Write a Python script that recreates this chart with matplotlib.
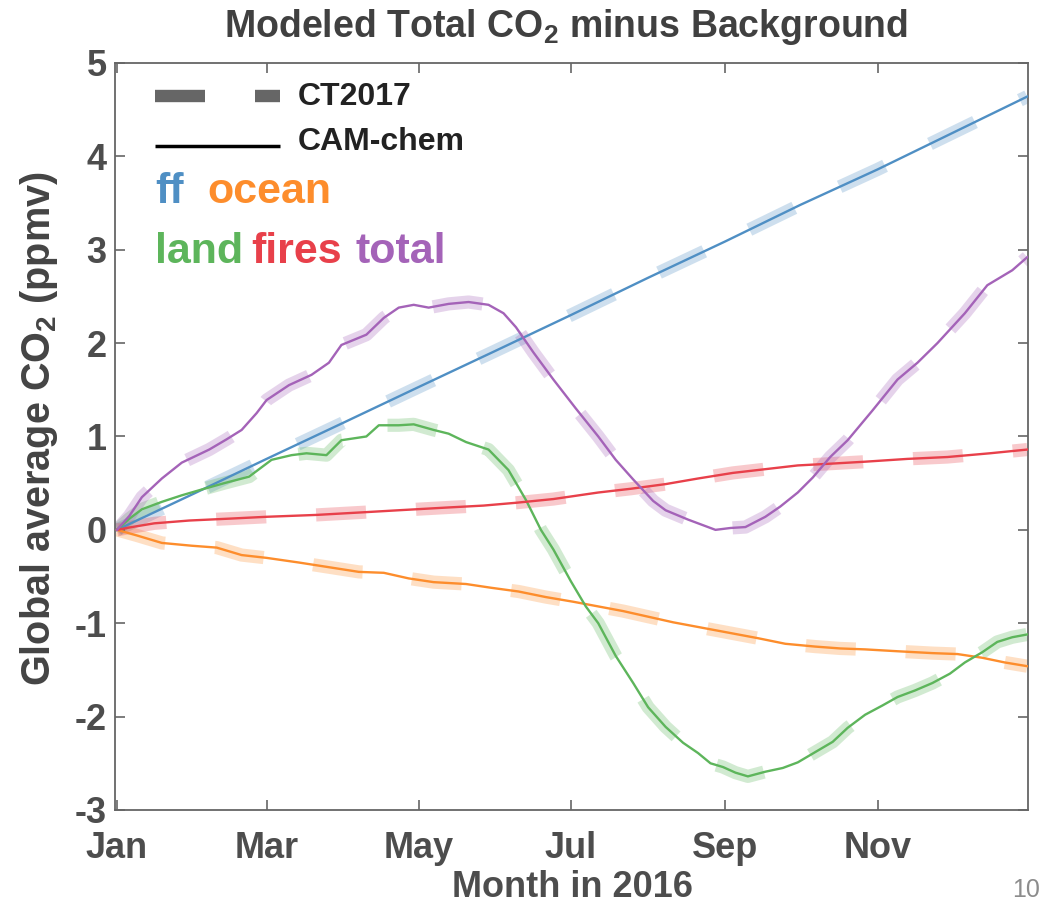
import matplotlib as mpl
mpl.use('Agg')
import matplotlib.pyplot as plt

plt.rcParams['font.family'] = ['Liberation Sans', 'DejaVu Sans']
plt.rcParams['font.weight'] = 'bold'
plt.rcParams['mathtext.fontset'] = 'custom'
plt.rcParams['mathtext.rm'] = 'Liberation Sans:bold'
plt.rcParams['mathtext.bf'] = 'Liberation Sans:bold'
plt.rcParams['lines.scale_dashes'] = False
plt.rcParams['axes.unicode_minus'] = False

# day of 2016 (0 = Jan 1) and CO2 minus background (ppmv)
ff_days = [0, 31, 60, 91, 121, 152, 182, 213, 244, 274, 305, 335, 365]
ff_vals = [0, 0.39, 0.76, 1.15, 1.53, 1.92, 2.30, 2.70, 3.09, 3.48, 3.86, 4.25, 4.64]

ocean_days = [0, 8, 18, 30, 40, 50, 60, 73, 85, 97, 107, 117, 127, 140, 150, 161,
              172, 183, 193, 203, 213, 223, 233, 245, 257, 268, 280, 290, 300,
              313, 327, 337, 347, 356, 365]
ocean_vals = [0, -0.06, -0.14, -0.17, -0.19, -0.27, -0.30, -0.35, -0.40, -0.45,
              -0.46, -0.52, -0.56, -0.58, -0.62, -0.66, -0.72, -0.77, -0.82,
              -0.87, -0.93, -0.99, -1.04, -1.10, -1.16, -1.22, -1.25, -1.27,
              -1.28, -1.30, -1.32, -1.33, -1.37, -1.42, -1.46]

land_days = [0, 5, 10, 18, 26, 35, 43, 53, 62, 70, 76, 84, 90, 100, 105, 113, 119,
             127, 133, 140, 149, 157, 164, 170, 175, 182, 188, 193, 200, 207, 213,
             220, 227, 233, 238, 243, 248, 253, 260, 267, 273, 280, 287, 293, 300,
             307, 313, 320, 327, 334, 340, 347, 353, 359, 365]
land_vals = [0, 0.12, 0.22, 0.30, 0.37, 0.44, 0.50, 0.57, 0.75, 0.80, 0.82, 0.80,
             0.96, 1.00, 1.12, 1.12, 1.13, 1.07, 1.03, 0.94, 0.86, 0.64, 0.32, 0.0,
             -0.21, -0.55, -0.82, -1.00, -1.35, -1.64, -1.90, -2.11, -2.28, -2.39,
             -2.50, -2.54, -2.60, -2.64, -2.59, -2.55, -2.49, -2.38, -2.27, -2.12,
             -1.98, -1.88, -1.79, -1.72, -1.64, -1.54, -1.42, -1.31, -1.20, -1.15,
             -1.12]

fires_days = [0, 6, 15, 29, 45, 60, 80, 100, 113, 133, 147, 160, 175, 193, 206,
              220, 233, 247, 260, 273, 287, 300, 317, 333, 350, 365]
fires_vals = [0, 0.03, 0.07, 0.10, 0.12, 0.14, 0.16, 0.19, 0.21, 0.24, 0.26, 0.29,
              0.33, 0.40, 0.44, 0.49, 0.55, 0.61, 0.65, 0.69, 0.71, 0.73, 0.76,
              0.78, 0.82, 0.86]

total_days = [0, 5, 10, 18, 26, 37, 44, 50, 56, 60, 69, 78, 85, 90, 100, 107, 113,
              119, 125, 133, 141, 149, 155, 160, 167, 175, 184, 193, 200, 207, 215,
              220, 229, 235, 240, 246, 252, 260, 266, 273, 279, 286, 293, 303, 313,
              321, 329, 340, 349, 359, 365]
total_vals = [0, 0.15, 0.35, 0.55, 0.72, 0.86, 0.97, 1.07, 1.25, 1.39, 1.55, 1.66,
              1.79, 1.98, 2.09, 2.27, 2.38, 2.41, 2.38, 2.42, 2.44, 2.41, 2.32,
              2.17, 1.90, 1.61, 1.30, 1.00, 0.75, 0.54, 0.31, 0.21, 0.11, 0.05,
              0.00, 0.02, 0.03, 0.14, 0.25, 0.40, 0.56, 0.78, 0.96, 1.28, 1.61,
              1.79, 2.00, 2.32, 2.62, 2.78, 2.92]

month_ticks = [0, 60, 121, 182, 244, 305]
month_labels = ['Jan', 'Mar', 'May', 'Jul', 'Sep', 'Nov']

series = [
    ('ff', ff_days, ff_vals, '#4f8fc4'),
    ('ocean', ocean_days, ocean_vals, '#fd8d2c'),
    ('land', land_days, land_vals, '#5db55b'),
    ('fires', fires_days, fires_vals, '#e8404a'),
    ('total', total_days, total_vals, '#a463b8'),
]

fig = plt.figure(figsize=(10.45, 9.10), dpi=100)
ax = fig.add_axes([0.1100, 0.1099, 0.8737, 0.8209])

# CT2017: wide pale dashes; CAM-chem: thin solid lines on top
for name, d, v, c in series:
    ax.plot(d, v, color=c, alpha=0.28, lw=9.5, dashes=(36, 36),
            dash_capstyle='butt', zorder=1)
for name, d, v, c in series:
    ax.plot(d, v, color=c, lw=1.7, zorder=3)

ax.set_xlim(-0.8, 365.3)
ax.set_ylim(-3, 5)
ax.set_xticks(month_ticks)
ax.set_xticklabels(month_labels)
ax.set_yticks(range(-3, 6))
ax.tick_params(direction='in', length=7, width=1.2, color='#666666',
               top=True, right=True, labelsize=26, labelcolor='#4d4d4d')
ax.tick_params(axis='x', pad=15)
ax.tick_params(axis='y', pad=6)
for sp in ax.spines.values():
    sp.set_color('#666666')
    sp.set_linewidth(1.3)

# legend drawn by hand
ax.plot([0.0438, 0.1807], [0.9563, 0.9563], transform=ax.transAxes,
        color='#666666', lw=8.9, dashes=(36, 36), dash_capstyle='butt')
ax.plot([0.0438, 0.1807], [0.8893, 0.8893], transform=ax.transAxes,
        color='black', lw=2.5, solid_capstyle='butt')
ax.text(0.2004, 0.9438, 'CT2017', transform=ax.transAxes, fontsize=23,
        color='#222222', va='baseline')
ax.text(0.2004, 0.8835, 'CAM-chem', transform=ax.transAxes, fontsize=23,
        color='#222222', va='baseline')
label_pos = {'ff': (0.0438, 0.8123), 'ocean': (0.1013, 0.8123),
             'land': (0.0438, 0.7323), 'fires': (0.149, 0.7323),
             'total': (0.264, 0.7323)}
for name, d, v, c in series:
    x, y = label_pos[name]
    ax.text(x, y, name, transform=ax.transAxes, fontsize=31, color=c,
            va='baseline')

fig.text(566.5 / 1045, 1 - 37 / 910, r'Modeled Total CO$_\mathbf{2}$ minus Background',
         ha='center', va='baseline', fontsize=27, color='#404040')
fig.text(39 / 1045, 1 - 429 / 910, r'Global average CO$_\mathbf{2}$ (ppmv)',
         ha='center', va='center', rotation=90, fontsize=28.5, color='#444444')
fig.text(572 / 1045, 1 - 897 / 910, 'Month in 2016', ha='center', va='baseline',
         fontsize=26, color='#4d4d4d')
fig.text(1040 / 1045, 1 - 897 / 910, '10', ha='right', va='baseline',
         fontsize=18, weight='normal', color='#8c8c8c')

fig.savefig('out.png', dpi=100)
